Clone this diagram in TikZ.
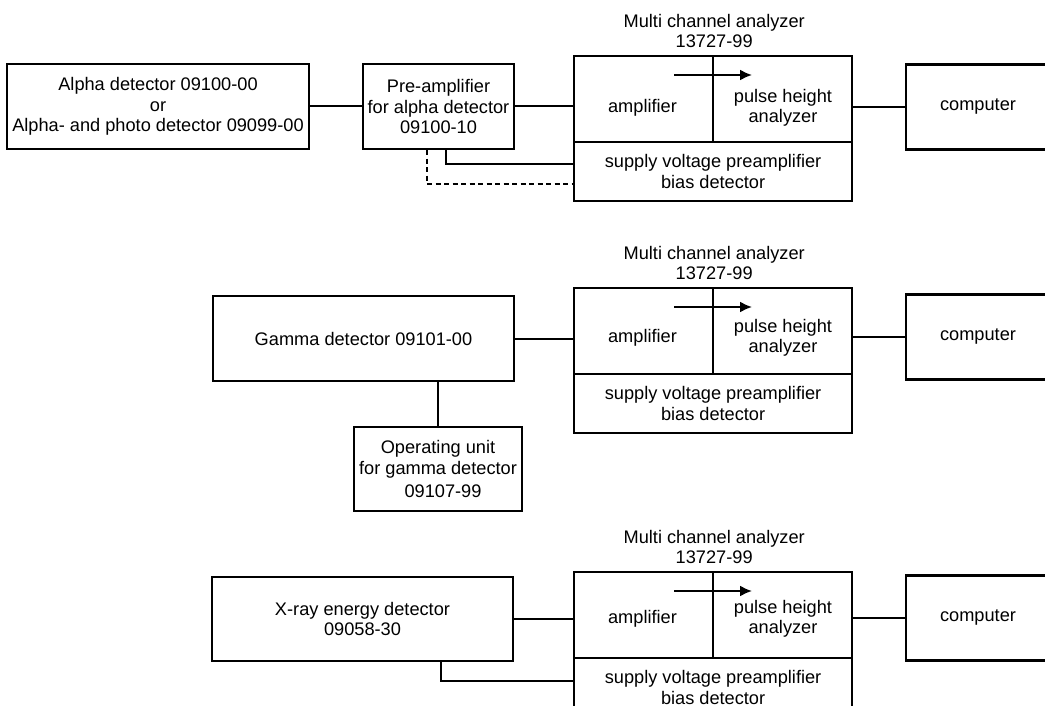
\documentclass[tikz,border=0pt]{standalone}
\usepackage{fontspec}
\setmainfont{Liberation Sans}
\usetikzlibrary{arrows.meta}
\usetikzlibrary{positioning}
\usetikzlibrary{calc}

\begin{document}
\begin{tikzpicture}[x=1pt,y=-1pt,font=\fontsize{18.2}{20.5}\selectfont]
\tikzstyle{box} = [rectangle, draw, line width=2.2pt, align=center, inner sep=2pt]
\tikzstyle{cell} = [rectangle, draw, line width=2.2pt, align=center, inner sep=2pt, anchor=north west]
\tikzstyle{line} = [draw, line width=2pt]
\tikzstyle{mcatitle} = [align=center, inner sep=1pt]
\useasboundingbox (0,0) rectangle (1045,706);
\clip (0,0) rectangle (1045,706);
% multi channel analyzer and computer, one per row
\foreach \n/\t/\c in {1/55/108, 2/287/338, 3/571/619}
{
  \node [cell, minimum width=139, minimum height=86] (amp\n) at (573,\t) {};
  \node [cell, minimum width=139, minimum height=86] (pha\n) at (712,\t) {};
  \node [cell, minimum width=278, minimum height=59] (sup\n) at (573,\t+86) {supply voltage preamplifier\\bias detector};
  \node (ampt\n) at (642.5,\c) {amplifier};
  \node [align=center] (phat\n) at (783,\c) {pulse height\\analyzer};
  \node [mcatitle, above=6pt of amp\n.north east] (ttl\n) {Multi channel analyzer\\13727-99};
  \coordinate (as\n) at (674,\t+20);
  \coordinate (ae\n) at (752,\t+20);
  \draw[->,>={Latex[length=12pt,width=11pt]},line width=2pt] (as\n) -- (ae\n);
  \node [box, minimum width=144, minimum height=85] (comp\n) at (978,\c-1) {computer};
  \draw[line] (pha\n.east |- comp\n) -- (comp\n);
}
% row 1
\node [box, minimum width=302, minimum height=85] (alpha) at (158,106.5) {Alpha detector 09100-00\\or\\Alpha- and photo detector 09099-00};
\node [box, minimum width=151, minimum height=85] (pre) at (438.5,106.5) {Pre-amplifier\\for alpha detector\\09100-10};
\draw[line] (alpha) -- (pre);
\draw[line] (pre) -- (pre -| amp1.west);
\draw[line] ($(pre.south)+(7,0)$) |- ($(sup1.west)+(0,-8)$);
\draw[line] [dash pattern=on 5pt off 3.5pt] ($(pre.south)+(-12,0)$) |- ($(sup1.west)+(0,12)$);
% row 2
\node [box, minimum width=301, minimum height=85] (gamma) at (363.5,338.5) {Gamma detector 09101-00};
\node [box, minimum width=168, minimum height=84] (opunit) at (438,469) {Operating unit\\for gamma detector\\[2.5pt]\hspace*{10pt}09107-99};
\draw[line] (gamma) -- (gamma -| amp2.west);
\draw[line] (gamma.south -| opunit.north) -- (opunit);
% row 3
\node [box, minimum width=301, minimum height=84] (xray) at (362.5,619) {X-ray energy detector\\09058-30};
\draw[line] (xray) -- (xray -| amp3.west);
\draw[line] ($(xray.south)+(78.5,0)$) |- ($(sup3.west)+(0,-6.5)$);
\end{tikzpicture}
\end{document}
